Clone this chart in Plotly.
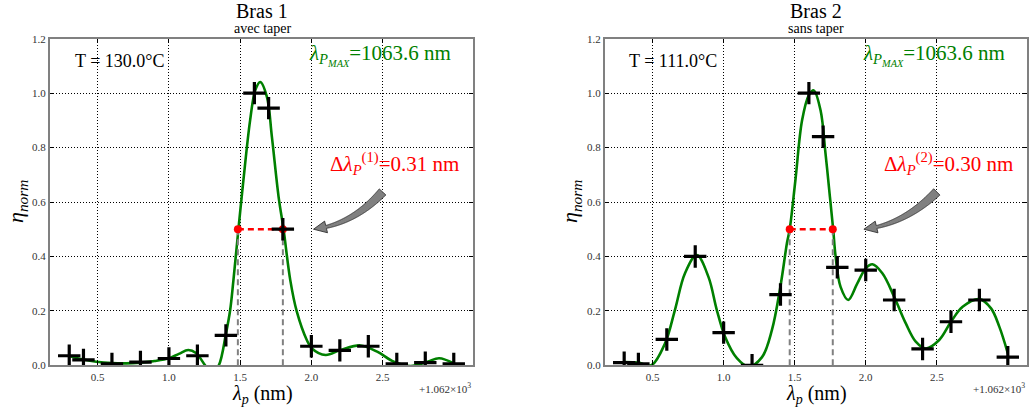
import numpy as np
import plotly.graph_objects as go

# ---------------- data ----------------
lam_meas = [0.3, 0.4, 0.6, 0.8, 1.0, 1.2, 1.4, 1.6, 1.7, 1.8, 2.0, 2.2, 2.4, 2.6, 2.8, 3.0]
eta_bras1 = [0.035, 0.02, 0.005, 0.012, 0.025, 0.035, 0.11, 1.0, 0.945, 0.5, 0.07, 0.055, 0.07, 0.005, 0.01, 0.005]
eta_bras2 = [0.01, 0.005, 0.095, 0.40, 0.12, 0.0, 0.26, 1.0, 0.84, 0.36, 0.35, 0.24, 0.06, 0.16, 0.24, 0.03]

fit1_x = [0.30, 0.40, 0.49, 0.60, 0.70, 0.80, 0.90, 1.00, 1.07, 1.136, 1.19, 1.254, 1.30, 1.35, 1.40, 1.43,
          1.453, 1.488, 1.523, 1.57, 1.606, 1.641, 1.688, 1.723, 1.77, 1.805, 1.852, 1.898, 1.968, 2.004,
          2.10, 2.204, 2.345, 2.462, 2.579, 2.697, 2.815, 2.897, 3.00]
fit1_y = [0.034, 0.021, 0.013, 0.008, 0.007, 0.010, 0.016, 0.026, 0.042, 0.056, 0.045, 0.0, -0.03, 0.0, 0.115, 0.203,
          0.313, 0.50, 0.68, 0.90, 1.01, 1.041, 0.986, 0.839, 0.619, 0.499, 0.313, 0.197, 0.093, 0.062,
          0.038, 0.056, 0.073, 0.05, 0.013, -0.003, 0.013, 0.026, 0.007]

fit2_x = [0.30, 0.40, 0.49, 0.587, 0.657, 0.728, 0.811, 0.893, 0.952, 1.01, 1.093, 1.175, 1.27, 1.34, 1.399,
          1.446, 1.465, 1.505, 1.552, 1.599, 1.634, 1.682, 1.717, 1.748, 1.771, 1.788, 1.823, 1.877, 1.94,
          2.0, 2.047, 2.117, 2.2, 2.282, 2.352, 2.423, 2.517, 2.6, 2.682, 2.8, 2.882, 2.94, 3.0]
fit2_y = [0.012, 0.01, 0.0, 0.08, 0.203, 0.338, 0.405, 0.325, 0.203, 0.105, 0.026, -0.005, 0.03, 0.13, 0.288,
          0.45, 0.50, 0.68, 0.90, 0.992, 1.01, 0.937, 0.778, 0.619, 0.499, 0.40, 0.288, 0.24, 0.30,
          0.356, 0.371, 0.338, 0.252, 0.154, 0.087, 0.062, 0.093, 0.16, 0.215, 0.243, 0.209, 0.142, 0.044]

fwhm1 = [1.484, 1.800]
fwhm2 = [1.465, 1.768]
half_max = 0.5

titles = ["Bras 1", "Bras 2"]
subtitles = ["avec taper", "sans taper"]
temps = ["T = 130.0°C", "T = 111.0°C"]
lam_max_txt = "=1063.6 nm"
dlam_vals = ["0.31", "0.30"]

# arrow geometry (data coords): tail, control, head
arrow1 = [(2.50, 0.637), (2.29, 0.517), (2.015, 0.50)]
arrow2 = [(2.50, 0.637), (2.27, 0.517), (1.987, 0.50)]

x_ticks = [0.5, 1.0, 1.5, 2.0, 2.5]
y_ticks = [0.0, 0.2, 0.4, 0.6, 0.8, 1.0, 1.2]

# ---------------- layout geometry ----------------
W, H = 1029, 410
X_RANGE = [0.165, 3.135]
Y_RANGE = [0.0, 1.2]
L_DOM = [50 / W, 473 / W]
R_DOM = [605 / W, 1027 / W]
Y_DOM = [(H - 365.3) / H, (H - 38.7) / H]
SX = (473 - 50) / (X_RANGE[1] - X_RANGE[0])
SY = (365.3 - 38.7) / (Y_RANGE[1] - Y_RANGE[0])

SERIF = "Liberation Serif"
GREEN = "#008000"
RED = "#ff0000"


def P(px, py):
    return px / W, 1 - py / H


def fancy_arrow_path(tail, ctrl, head, w_tail=9, w_neck=3, head_len=13, head_w=12):
    p0 = np.array([tail[0] * SX, tail[1] * SY])
    c = np.array([ctrl[0] * SX, ctrl[1] * SY])
    p2 = np.array([head[0] * SX, head[1] * SY])
    t = np.linspace(0, 1, 300)[:, None]
    pts = (1 - t) ** 2 * p0 + 2 * (1 - t) * t * c + t ** 2 * p2
    seg = np.linalg.norm(np.diff(pts, axis=0), axis=1)
    cum = np.concatenate([[0], np.cumsum(seg)])
    total = cum[-1]
    neck = np.searchsorted(cum, total - head_len)
    body = pts[:neck + 1]
    tang = np.gradient(body, axis=0)
    tang /= np.linalg.norm(tang, axis=1)[:, None]
    nrm = np.stack([-tang[:, 1], tang[:, 0]], axis=1)
    frac = cum[:neck + 1] / cum[neck]
    w = (w_tail + (w_neck - w_tail) * frac)[:, None] / 2
    left = body + nrm * w
    right = body - nrm * w
    nb = body[-1]
    nn = nrm[-1]
    headpts = [nb + nn * head_w / 2, p2, nb - nn * head_w / 2]
    poly = list(left) + headpts + list(right[::-1])
    s = "M " + " L ".join(f"{q[0] / SX:.5f},{q[1] / SY:.5f}" for q in poly) + " Z"
    return s


fig = go.Figure()

panels = [
    dict(xa="x", ya="y", eta=eta_bras1, fx=fit1_x, fy=fit1_y, fw=fwhm1, arr=arrow1),
    dict(xa="x2", ya="y2", eta=eta_bras2, fx=fit2_x, fy=fit2_y, fw=fwhm2, arr=arrow2),
]

shapes = []
for p in panels:
    fig.add_trace(go.Scatter(x=p["fx"], y=p["fy"], mode="lines", xaxis=p["xa"], yaxis=p["ya"],
                             line=dict(color=GREEN, width=2.6, shape="spline", smoothing=1.0),
                             showlegend=False, hoverinfo="skip"))
    for xv in p["fw"]:
        fig.add_trace(go.Scatter(x=[xv, xv], y=[Y_RANGE[0], half_max], mode="lines",
                                 xaxis=p["xa"], yaxis=p["ya"],
                                 line=dict(color="#808080", width=2, dash="6px,4px"),
                                 showlegend=False, hoverinfo="skip"))
    fig.add_trace(go.Scatter(x=p["fw"], y=[half_max, half_max], mode="lines+markers",
                             xaxis=p["xa"], yaxis=p["ya"],
                             line=dict(color=RED, width=2.5, dash="6px,4px"),
                             marker=dict(color=RED, size=8, symbol="circle"),
                             showlegend=False, hoverinfo="skip"))
    fig.add_trace(go.Scatter(x=lam_meas, y=p["eta"], mode="markers", xaxis=p["xa"], yaxis=p["ya"],
                             marker=dict(symbol="cross-thin", size=16, line=dict(color="black", width=3.2)),
                             showlegend=False, hoverinfo="skip"))
    tail, ctrl, head = p["arr"]
    shapes.append(dict(type="path", path=fancy_arrow_path(tail, ctrl, head), xref=p["xa"], yref=p["ya"],
                       fillcolor="#808080", line=dict(color="#222222", width=0.8), layer="above"))

axis_common = dict(showline=True, linecolor="#808080", linewidth=2, mirror="ticks",
                   ticks="inside", ticklen=4, tickwidth=1, tickcolor="black",
                   showgrid=True, gridcolor="black", gridwidth=1, griddash="1px,2px",
                   zeroline=False, tickformat=".1f", automargin=False,
                   tickfont=dict(family=SERIF, size=11, color="#333333"))

fig.update_layout(
    width=W, height=H, margin=dict(l=0, r=0, t=0, b=0, autoexpand=False),
    paper_bgcolor="white", plot_bgcolor="white",
    xaxis=dict(domain=L_DOM, range=X_RANGE, tickvals=x_ticks, anchor="y", **axis_common),
    yaxis=dict(domain=Y_DOM, range=Y_RANGE, tickvals=y_ticks, anchor="x", **axis_common),
    xaxis2=dict(domain=R_DOM, range=X_RANGE, tickvals=x_ticks, anchor="y2", **axis_common),
    yaxis2=dict(domain=Y_DOM, range=Y_RANGE, tickvals=y_ticks, anchor="x2", **axis_common),
    shapes=shapes,
)

ann = []


def add_text(px, py, text, size, color="black", xanchor="center", angle=0):
    x, y = P(px, py)
    ann.append(dict(x=x, y=y, xref="paper", yref="paper", text=text, showarrow=False,
                    xanchor=xanchor, yanchor="middle", textangle=angle,
                    font=dict(family=SERIF, size=size, color=color)))


offsets = [0, 554]
for i, dx in enumerate(offsets):
    add_text(262 + dx, 11, titles[i], 20)
    add_text(262 + dx, 29, subtitles[i], 14)
    add_text(73 + dx, 61, temps[i], 18, xanchor="left")
    add_text(453 + dx, 55,
             "<i>λ</i><sub><i>P</i><sub><i>MAX</i></sub></sub>" + lam_max_txt, 21, GREEN, xanchor="right")
    add_text(461 + dx, 163,
             f"Δ<i>λ</i><sub><i>P</i></sub><sup>({i + 1})</sup>={dlam_vals[i]} nm", 21, RED, xanchor="right")
    add_text(17 + dx, 202, "<i>η</i><sub><i>norm</i></sub>", 22, angle=-90)
    add_text(262 + dx, 394, "<i>λ</i><sub><i>p</i></sub> (nm)", 20)
    add_text(473 + dx, 388, "+1.062×10<sup>3</sup>", 11, "#333333", xanchor="right")

fig.update_layout(annotations=ann)

fig.write_html("out.html", config={"displayModeBar": False},
               post_script="document.body.style.margin='0';document.body.style.overflow='hidden';")
